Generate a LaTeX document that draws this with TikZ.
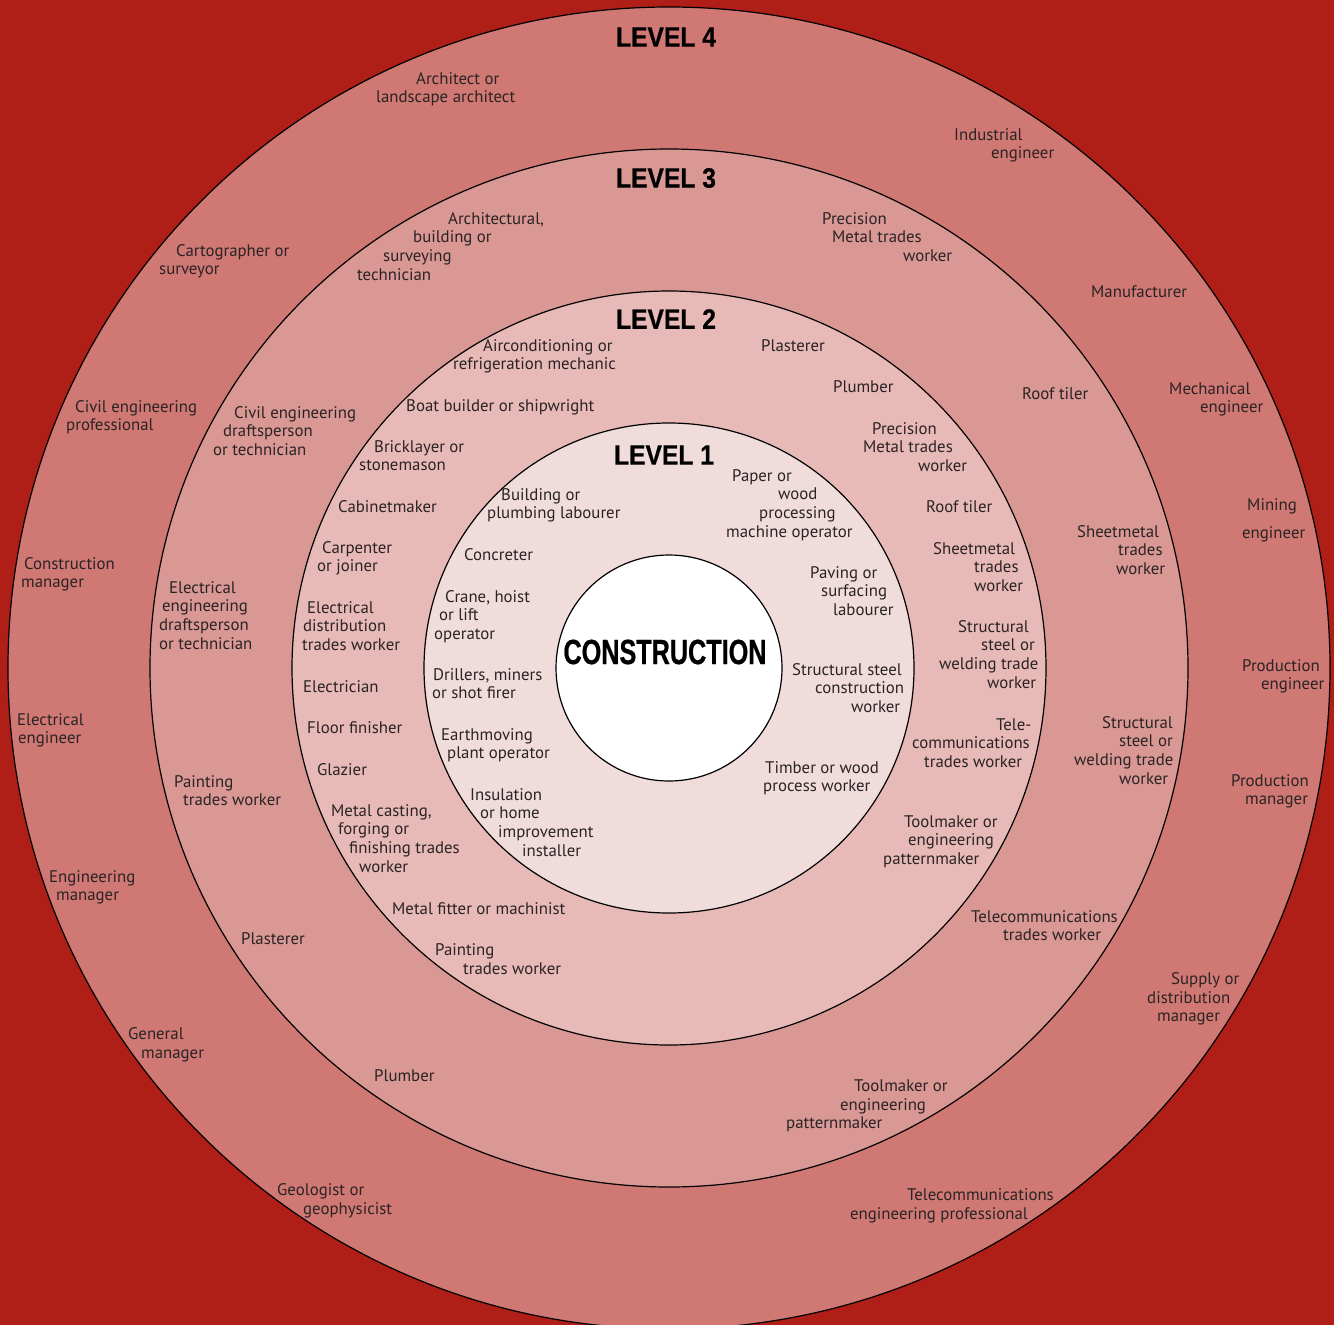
\documentclass[tikz,border=0pt]{standalone}
\usepackage{fontspec}
\newfontfamily\lblfam{PT Sans}
\newfontfamily\headfam[FakeStretch=0.88,FakeBold=0.6]{Liberation Sans Bold}
\newfontfamily\corefam[FakeStretch=0.72,FakeBold=0.6]{Liberation Sans Bold}
\definecolor{bgred}{HTML}{AF1E17}
\definecolor{ringfour}{HTML}{CF7874}
\definecolor{ringthree}{HTML}{D99894}
\definecolor{ringtwo}{HTML}{E8BAB7}
\definecolor{ringone}{HTML}{F1DCDC}
\definecolor{txt}{HTML}{2A2324}
\newcommand\I[1]{\hspace*{#1pt}}
\tikzset{
  lbl/.style={anchor=north west, align=left, inner sep=0pt, text=txt, yshift=-2pt,
    font=\lblfam\fontsize{16.8}{18.7}\selectfont},
  head/.style={anchor=center, inner sep=0pt, text=black,
    font=\headfam\fontsize{28}{32}\selectfont},
  ring/.style={draw=black, line width=1.2pt}
}
\begin{document}
\begin{tikzpicture}[x=1pt,y=-1pt]
\useasboundingbox (0,0) rectangle (1334,1325);
\fill[bgred] (0,0) rectangle (1334,1325);
\coordinate (c) at (669,668);
\filldraw[ring, fill=ringfour] (c) circle[radius=661pt];
\filldraw[ring, fill=ringthree] (c) circle[radius=519pt];
\filldraw[ring, fill=ringtwo] (c) circle[radius=377pt];
\filldraw[ring, fill=ringone] (c) circle[radius=245pt];
\filldraw[ring, fill=white] (c) circle[radius=113pt];

\node[head] (h4) at (666,37) {LEVEL 4};
\node[head] (h3) at (666,178) {LEVEL 3};
\node[head] (h2) at (666,319) {LEVEL 2};
\node[head] (h1) at (664,455) {LEVEL 1};
\node[head, font=\corefam\fontsize{35}{38}\selectfont] (core) at (665,652) {CONSTRUCTION};

% Level 4
\node[lbl] (a1) at (376,69) {\strut\I{40}Architect or\\landscape architect};
\node[lbl] (a2) at (954,125) {\strut Industrial\\\I{37}engineer};
\node[lbl] (a3) at (159,241) {\strut\I{17}Cartographer or\\surveyor};
\node[lbl] (a4) at (1091,282) {\strut Manufacturer};
\node[lbl] (a5) at (66,397) {\strut\I{9}Civil engineering\\professional};
\node[lbl] (a6) at (1169,379) {\strut Mechanical\\\I{31}engineer};
\node[lbl] (a7) at (1242,495) {\strut\I{5}Mining\\[10pt]engineer};
\node[lbl] (a8) at (21,554) {\strut\I{3}Construction\\manager};
\node[lbl] (a9) at (1242,656) {\strut Production\\\I{19}engineer};
\node[lbl] (a10) at (17,710) {\strut Electrical\\\I{1}engineer};
\node[lbl] (a11) at (1231,771) {\strut Production\\\I{14}manager};
\node[lbl] (a12) at (49,867) {\strut Engineering\\\I{7}manager};
\node[lbl] (a13) at (1147,969) {\strut\I{24}Supply or\\distribution\\\I{10}manager};
\node[lbl] (a14) at (128,1024) {\strut General\\\I{13}manager};
\node[lbl] (a15) at (277,1180) {\strut Geologist or\\\I{26}geophysicist};
\node[lbl] (a16) at (850,1185) {\strut\I{57}Telecommunications\\engineering professional};

% Level 3
\node[lbl] (b1) at (357,209) {\strut\I{91}Architectural,\\\I{56}building or\\\I{26}surveying\\technician};
\node[lbl] (b2) at (822,209) {\strut Precision\\\I{10}Metal trades\\\I{81}worker};
\node[lbl] (b3) at (213,403) {\strut\I{21}Civil engineering\\\I{10}draftsperson\\or technician};
\node[lbl] (b4) at (1022,384) {\strut Roof tiler};
\node[lbl] (b5) at (1077,522) {\strut Sheetmetal\\\I{41}trades\\\I{39}worker};
\node[lbl] (b6) at (159,578) {\strut\I{10}Electrical\\\I{3}engineering\\draftsperson\\or technician};
\node[lbl] (b7) at (1074,713) {\strut\I{28}Structural\\\I{45}steel or\\welding trade\\\I{45}worker};
\node[lbl] (b8) at (174,772) {\strut Painting\\\I{9}trades worker};
\node[lbl] (b9) at (971,907) {\strut Telecommunications\\\I{32}trades worker};
\node[lbl] (b10) at (241,929) {\strut Plasterer};
\node[lbl] (b11) at (786,1076) {\strut\I{68}Toolmaker or\\\I{54}engineering\\patternmaker};
\node[lbl] (b12) at (374,1066) {\strut Plumber};

% Level 2
\node[lbl] (c1) at (453,336) {\strut\I{30}Airconditioning or\\refrigeration mechanic};
\node[lbl] (c2) at (761,336) {\strut Plasterer};
\node[lbl] (c3) at (833,377) {\strut Plumber};
\node[lbl] (c4) at (406,396) {\strut Boat builder or shipwright};
\node[lbl] (c5) at (863,419) {\strut\I{9}Precision\\Metal trades\\\I{55}worker};
\node[lbl] (c6) at (359,437) {\strut\I{15}Bricklayer or\\stonemason};
\node[lbl] (c7) at (338,497) {\strut Cabinetmaker};
\node[lbl] (c8) at (926,497) {\strut Roof tiler};
\node[lbl] (c9) at (317,538) {\strut\I{5}Carpenter\\or joiner};
\node[lbl] (c10) at (933,539) {\strut Sheetmetal\\\I{41}trades\\\I{41}worker};
\node[lbl] (c11) at (302,598) {\strut\I{5}Electrical\\\I{1}distribution\\trades worker};
\node[lbl] (c12) at (939,617) {\strut\I{19}Structural\\\I{42}steel or\\welding trade\\\I{48}worker};
\node[lbl] (c13) at (303,677) {\strut Electrician};
\node[lbl] (c14) at (912,715) {\strut\I{84}Tele-\\communications\\\I{12}trades worker};
\node[lbl] (c15) at (307,718) {\strut Floor finisher};
\node[lbl] (c16) at (317,760) {\strut Glazier};
\node[lbl] (c17) at (331,801) {\strut Metal casting,\\\I{7}forging or\\\I{18}finishing trades\\\I{28}worker};
\node[lbl] (c18) at (883,812) {\strut\I{21}Toolmaker or\\\I{25}engineering\\patternmaker};
\node[lbl] (c19) at (392,899) {\strut Metal fitter or machinist};
\node[lbl] (c20) at (435,940) {\strut Painting\\\I{28}trades worker};

% Level 1
\node[lbl] (d1) at (487,485) {\strut\I{14}Building or\\plumbing labourer};
\node[lbl] (d2) at (726,466) {\strut\I{6}Paper or\\\I{52}wood\\\I{33}processing\\machine operator};
\node[lbl] (d3) at (464,545) {\strut Concreter};
\node[lbl] (d4) at (810,563) {\strut Paving or\\\I{11}surfacing\\\I{23}labourer};
\node[lbl] (d5) at (434,587) {\strut\I{11}Crane, hoist\\\I{5}or lift\\operator};
\node[lbl] (d6) at (792,660) {\strut Structural steel\\\I{23}construction\\\I{59}worker};
\node[lbl] (d7) at (432,665) {\strut\I{1}Drillers, miners\\or shot firer};
\node[lbl] (d8) at (441,725) {\strut Earthmoving\\\I{6}plant operator};
\node[lbl] (d9) at (763,758) {\strut\I{2}Timber or wood\\process worker};
\node[lbl] (d10) at (470,785) {\strut Insulation\\\I{10}or home\\\I{28}improvement\\\I{52}installer};
\end{tikzpicture}
\end{document}
